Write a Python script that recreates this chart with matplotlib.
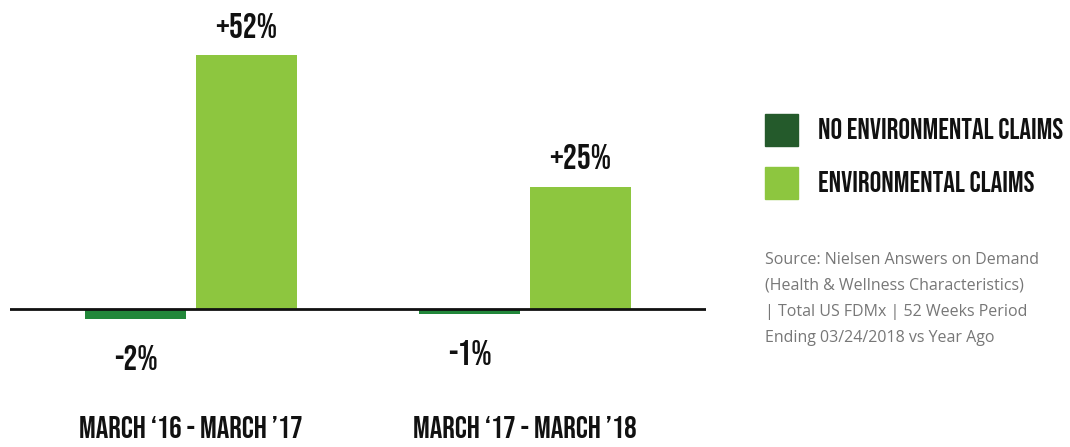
import matplotlib.pyplot as plt
from matplotlib.patches import Rectangle

# Data
periods = ["MARCH \u201816 - MARCH \u201917", "MARCH \u201817 - MARCH \u201918"]
no_claims = [-2, -1]
env_claims = [52, 25]
series_names = ["NO ENVIRONMENTAL CLAIMS", "ENVIRONMENTAL CLAIMS"]
source_lines = [
    "Source: Nielsen Answers on Demand",
    "(Health & Wellness Characteristics)",
    "| Total US FDMx | 52 Weeks Period",
    "Ending 03/24/2018 vs Year Ago",
]

DARK = "#22873a"
DARK_LEGEND = "#245a2b"
LIGHT = "#8dc63f"
INK = "#111111"
COND = ["Bebas Neue", "Oswald", "Barlow Condensed", "DejaVu Sans"]

W, H = 1070, 447
fig = plt.figure(figsize=(W / 100, H / 100), dpi=100)

# axes placed to match pixel layout: x 10..706, full height
ax = fig.add_axes([10 / W, 0, 696 / W, 1])
ax.set_xlim(-0.542, 1.542)
ax.set_ylim(-28.25, 63.25)
ax.axis("off")

x = [0, 1]
bw = 0.30
off = 0.166
ax.bar([i - off for i in x], no_claims, width=bw, color=DARK)
ax.bar([i + off for i in x], env_claims, width=bw, color=LIGHT)
ax.axhline(0, color=INK, lw=2, zorder=3)

for i, v in zip(x, env_claims):
    ax.annotate(f"+{v}%", (i + off, v), xytext=(0, 12.5), textcoords="offset points",
                ha="center", va="baseline", family=COND, fontsize=25, color=INK)
for i, v in zip(x, no_claims):
    ax.annotate(f"{v}%", (i - off, v), xytext=(0, -37), textcoords="offset points",
                ha="center", va="baseline", family=COND, fontsize=25, color=INK)
for i, p in zip(x, periods):
    ax.text(i, -26.4, p, ha="center", va="baseline",
            family=COND, fontsize=22.5, color=INK)

# legend
for k, (name, col) in enumerate(zip(series_names, [DARK_LEGEND, LIGHT])):
    y0 = 114 + k * 53
    fig.add_artist(Rectangle((765 / W, 1 - (y0 + 32) / H), 33 / W, 32 / H,
                             transform=fig.transFigure, color=col))
    fig.text(818 / W, 1 - (y0 + 25) / H, name, ha="left", va="baseline",
             family=COND, fontsize=20.9, color=INK)

for k, line in enumerate(source_lines):
    fig.text(765 / W, 1 - (260 + k * 26) / H, line, ha="left", va="center",
             family="Open Sans", fontsize=11.5, color="#777777")

fig.savefig("out.png", dpi=100)
